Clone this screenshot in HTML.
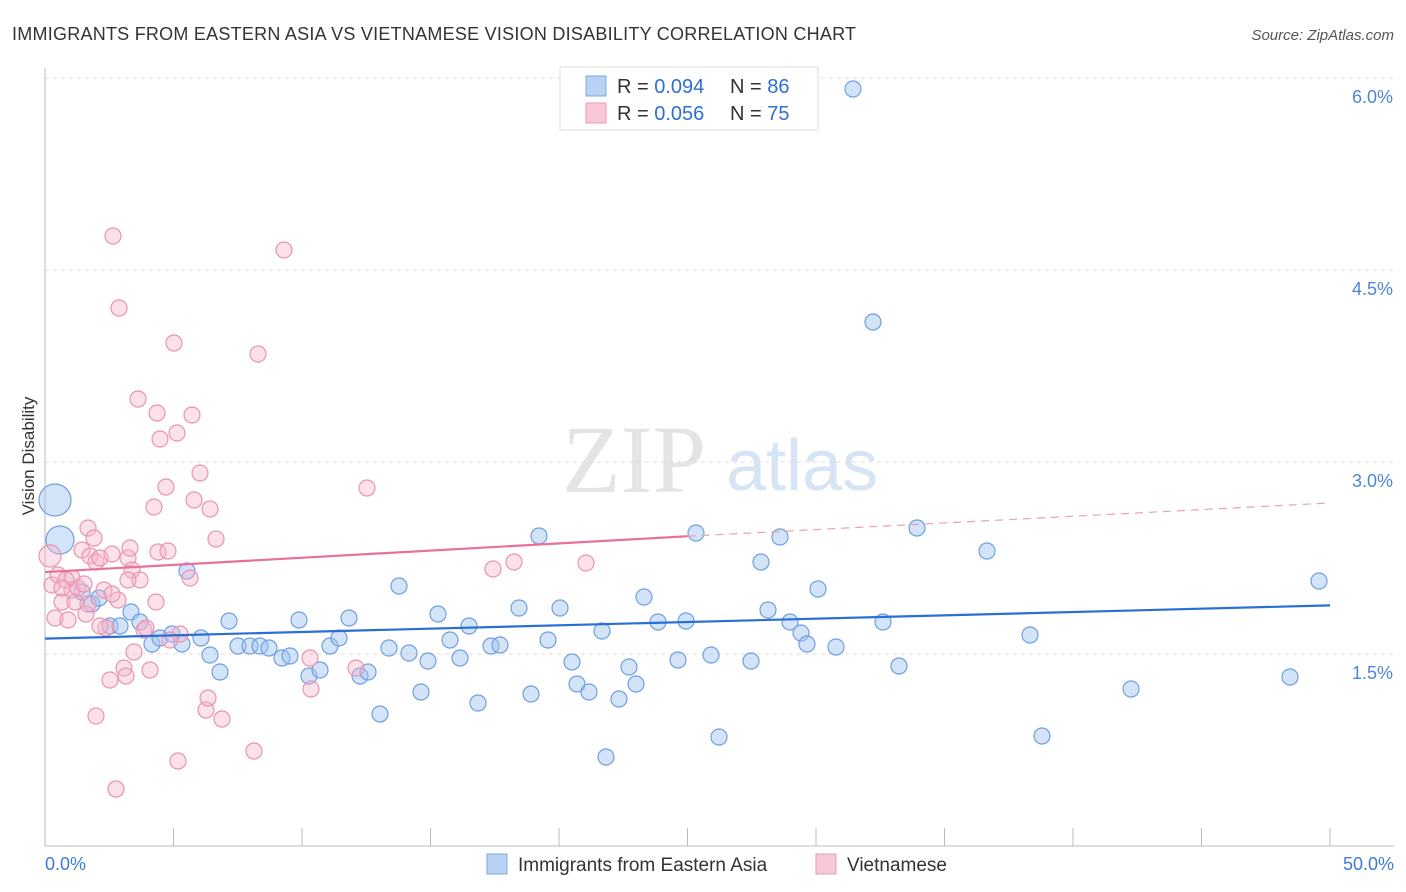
<!DOCTYPE html>
<html><head><meta charset="utf-8"><style>
body{margin:0;background:#fff;font-family:"Liberation Sans",sans-serif;}
#wrap{position:relative;width:1406px;height:892px;overflow:hidden;}
</style></head><body>
<div id="wrap">
<svg id="svg" width="1406" height="892" xmlns="http://www.w3.org/2000/svg">
<text x="12" y="40" font-size="18" fill="#333" textLength="844">IMMIGRANTS FROM EASTERN ASIA VS VIETNAMESE VISION DISABILITY CORRELATION CHART</text>
<text x="1394" y="40" font-size="15" fill="#555" font-style="italic" text-anchor="end">Source: ZipAtlas.com</text>
<text x="634" y="492" font-size="96" fill="#e4e4e4" font-family="Liberation Serif" text-anchor="middle">ZIP</text>
<text x="802" y="490" font-size="72" fill="#d6e4f4" text-anchor="middle">atlas</text>
<text transform="translate(34,456) rotate(-90)" font-size="17" fill="#333" text-anchor="middle">Vision Disability</text>
<g id="grid"></g><g id="marks"></g>
<text x="45" y="870" font-size="18" fill="#3d7bd9">0.0%</text>
<text x="1394" y="870" font-size="18" fill="#3d7bd9" text-anchor="end">50.0%</text>
<g>
<rect x="560" y="67" width="258" height="63" fill="#fff" stroke="#ddd"/>
<rect x="586" y="76" width="20" height="20" fill="#b8d2f3" stroke="#7fa8e0"/>
<text x="617" y="93" font-size="20" fill="#333">R = <tspan fill="#2f6fd0">0.094</tspan></text>
<text x="730" y="93" font-size="20" fill="#333">N = <tspan fill="#2f6fd0">86</tspan></text>
<rect x="586" y="103" width="20" height="20" fill="#f8c8d8" stroke="#eb9ab6"/>
<text x="617" y="120" font-size="20" fill="#333">R = <tspan fill="#2f6fd0">0.056</tspan></text>
<text x="730" y="120" font-size="20" fill="#333">N = <tspan fill="#2f6fd0">75</tspan></text>
</g>
<g>
<rect x="487" y="854" width="20" height="20" fill="#b8d2f3" stroke="#7fa8e0"/>
<text x="518" y="871" font-size="19" fill="#333">Immigrants from Eastern Asia</text>
<rect x="816" y="854" width="20" height="20" fill="#f8c8d8" stroke="#eb9ab6"/>
<text x="847" y="871" font-size="19" fill="#333">Vietnamese</text>
</g>
</svg>
</div>
<script>
const yTicks=[1.5,3.0,4.5,6.0];
const yTickLabels=["1.5%","3.0%","4.5%","6.0%"];
const xTicks=[0,5,10,15,20,25,30,35,40,45,50];
const blueTrend=[1.62,1.88];
const pinkTrend=[2.14,2.42,2.68];
const bluePx=[[55,500,16],[60,540,14],[82,592],[92,604],[99,598],[110,626],[120,626],[131,612],[140,622],[152,644],[160,638],[172,634],[182,644],[187,571],[201,638],[210,655],[220,672],[229,621],[238,646],[250,646],[260,646],[269,648],[282,658],[290,656],[299,620],[309,676],[320,670],[330,646],[339,638],[349,618],[360,676],[368,672],[380,714],[389,648],[399,586],[409,653],[421,692],[428,661],[438,614],[450,640],[460,658],[469,626],[478,703],[491,646],[500,645],[519,608],[531,694],[539,536],[548,640],[560,608],[572,662],[577,684],[589,692],[602,631],[606,757],[619,699],[629,667],[636,684],[644,597],[658,622],[678,660],[686,621],[696,533],[711,655],[719,737],[751,661],[761,562],[768,610],[780,537],[790,622],[801,633],[807,644],[818,589],[836,647],[853,89],[873,322],[883,622],[899,666],[917,528],[987,551],[1030,635],[1042,736],[1131,689],[1290,677],[1319,581]];
const pinkPx=[[50,556,11],[52,585],[55,618],[58,575],[62,602],[68,620],[72,578],[72,590],[75,602],[78,588],[82,550],[86,614],[88,528],[90,556],[94,538],[96,716],[96,562],[100,558],[104,590],[106,628],[110,680],[112,554],[113,236],[118,600],[119,308],[124,668],[126,676],[128,558],[130,548],[132,570],[134,652],[138,399],[140,580],[144,630],[150,670],[154,507],[156,602],[158,552],[157,413],[160,439],[166,487],[168,551],[174,343],[177,433],[178,761],[180,634],[190,578],[192,415],[194,500],[200,473],[206,710],[208,698],[210,509],[216,539],[222,719],[254,751],[258,354],[284,250],[310,658],[311,689],[356,668],[367,488],[493,569],[514,562],[586,563],[116,789],[66,580],[62,588],[100,626],[84,584],[128,580],[146,628],[170,640],[88,604],[112,594]];
const blueX=bluePx.map(p=>(p[0]-45)/25.7), blueY=bluePx.map(p=>(846-p[1])/128);
const pinkX=pinkPx.map(p=>(p[0]-45)/25.7), pinkY=pinkPx.map(p=>(846-p[1])/128);
const sx=v=>45+v*25.7, sy=v=>846-v*128;
const NS="http://www.w3.org/2000/svg";
function mk(t,a,p){const e=document.createElementNS(NS,t);for(const k in a)e.setAttribute(k,a[k]);p.appendChild(e);return e;}
const g=document.getElementById('grid'), m=document.getElementById('marks');
yTicks.forEach((t,i)=>{
 const l=mk('line',{x1:45,x2:1394,y1:sy(t),y2:sy(t),stroke:'#ddd','stroke-dasharray':'4,4'},g);
 
 
 const tx=mk('text',{x:1393,y:sy(t)+25,'font-size':18,fill:'#4a86dc','text-anchor':'end'},g);tx.textContent=yTickLabels[i];
 
 
});
mk('line',{x1:45,x2:1394,y1:78,y2:78,stroke:'#ddd','stroke-dasharray':'4,4'},g);
const ax=mk('line',{x1:45,x2:1394,y1:846,y2:846,stroke:'#bbb'},g);


const ay=mk('line',{x1:45,x2:45,y1:68,y2:846,stroke:'#bbb'},g);


xTicks.forEach(t=>{const l=mk('line',{x1:sx(t),x2:sx(t),y1:828,y2:846,stroke:'#bbb'},g);
 
 });
blueX.forEach((x,i)=>{const c=mk('circle',{cx:sx(x),cy:sy(blueY[i]),r:bluePx[i][2]||8,fill:'rgba(160,195,240,0.45)',stroke:'#6f9fe0','stroke-width':1.2},m);
 
 });
pinkX.forEach((x,i)=>{const c=mk('circle',{cx:sx(x),cy:sy(pinkY[i]),r:pinkPx[i][2]||8,fill:'rgba(246,180,202,0.4)',stroke:'#ea94b2','stroke-width':1.2},m);
 
 });
const bl=mk('line',{x1:sx(0),y1:sy(blueTrend[0]),x2:sx(50),y2:sy(blueTrend[1]),stroke:'#2a6fd6','stroke-width':2.2},m);


const pl=mk('line',{x1:sx(0),y1:sy(pinkTrend[0]),x2:sx(25),y2:sy(pinkTrend[1]),stroke:'#e8709a','stroke-width':2.2},m);


const pd=mk('line',{x1:sx(25),y1:sy(pinkTrend[1]),x2:sx(50),y2:sy(pinkTrend[2]),stroke:'#e8a0b8','stroke-width':1.2,'stroke-dasharray':'8,6'},m);


</script>
</body></html>
